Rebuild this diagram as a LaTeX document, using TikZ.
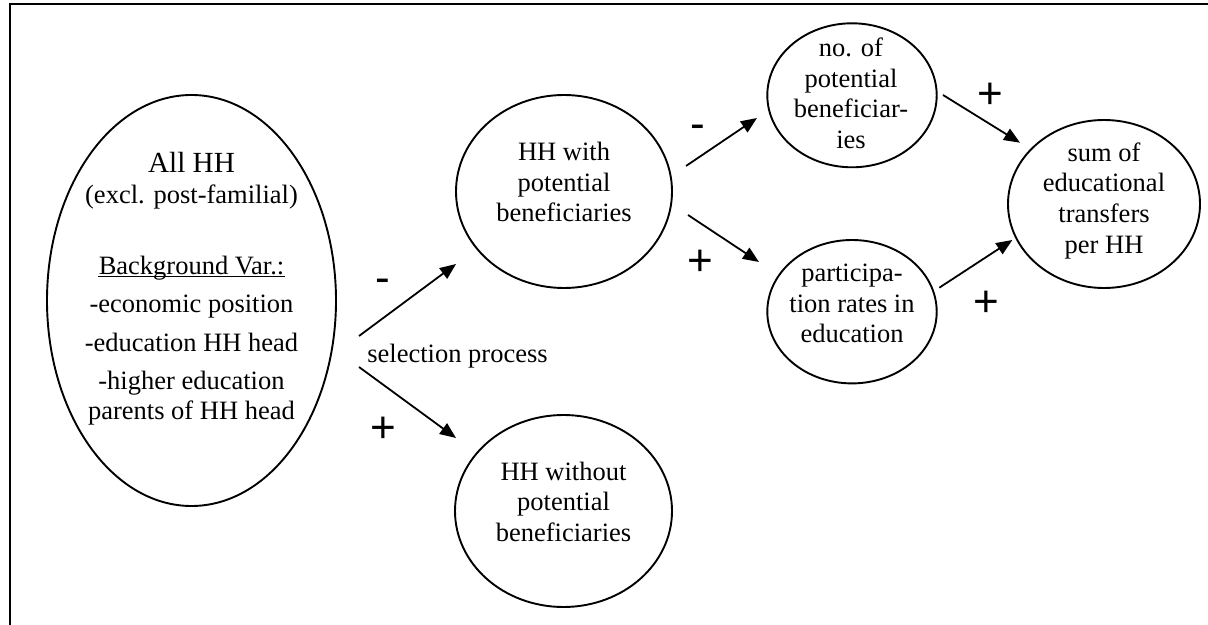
\documentclass[tikz,border=0pt]{standalone}
\usepackage{fontspec}
\setmainfont{Liberation Serif}
\newfontfamily\signfont{Liberation Sans}
\usetikzlibrary{shapes.geometric,arrows.meta}
\begin{document}
\begin{tikzpicture}[x=0.5pt,y=-0.5pt,
  oval/.style={draw,ellipse,line width=0.95pt,inner sep=0pt},
  txt/.style={anchor=base,align=center,inner sep=0pt,font=\fontsize{13.25}{15.4}\selectfont},
  sign/.style={anchor=base,inner sep=0pt,font=\signfont\fontsize{22}{22}\selectfont},
  link/.style={-{Triangle[length=8pt,width=6.5pt]},line width=0.9pt}]
\useasboundingbox (0,0) rectangle (1208,625);
\draw[line width=1pt] (10,625) -- (10,4) -- (1208,4);

% ellipses
\node[oval,minimum width=144.5pt,minimum height=205.5pt] (all) at (191.5,300.5) {};
\node[oval,minimum width=108pt,minimum height=96.5pt] (with) at (564,191.5) {};
\node[oval,minimum width=108.5pt,minimum height=96pt] (without) at (563.5,511) {};
\node[oval,minimum width=84.7pt,minimum height=72pt] (no) at (852,95.3) {};
\node[oval,minimum width=84.7pt,minimum height=71.7pt] (part) at (852,311.7) {};
\node[oval,minimum width=96pt,minimum height=84pt] (sum) at (1104,204) {};

% texts (base anchor = baseline of the last line)
\node[txt,font=\fontsize{14.6}{16}\selectfont] (allA) at (191.5,172.3) {All HH};
\node[txt] (allB) at (191.5,203.3) {(excl. post-familial)};
\node[txt] (allC) at (191.5,274.3) {Background Var.:};
\draw[line width=0.7pt] ([yshift=-1.2pt]allC.base west) -- ([yshift=-1.2pt]allC.base east);
\node[txt,font=\fontsize{13.25}{19.1}\selectfont] (allD) at (191.5,419.3)
  {-economic position\\-education HH head\\-higher education\\[-4.1pt]parents of HH head};
\node[txt] (withT) at (564,222) {HH with\\potential\\beneficiaries};
\node[txt] (withoutT) at (563.5,541.7) {HH without\\potential\\beneficiaries};
\node[txt,font=\fontsize{13.25}{15.3}\selectfont] (noT) at (851,148.5) {no. of\\potential\\beneficiar-\\ies};
\node[txt,font=\fontsize{13.25}{15.3}\selectfont] (partT) at (852,342.7) {participa-\\tion rates in\\education};
\node[txt] (sumT) at (1104,253.5) {sum of\\educational\\transfers\\per HH};
\node[txt,anchor=base west] (sel) at (367,362) {selection process};

% signs
\node[sign] (m1) at (383.3,292.2) {-};
\node[sign] (p1) at (383.3,442.2) {+};
\node[sign] (m2) at (698.3,138.2) {-};
\node[sign] (p2) at (700,275.5) {+};
\node[sign] (p3) at (990,108.8) {+};
\node[sign] (p4) at (986.7,316.2) {+};

% connector ends
\coordinate (a1s) at (359,336);   \coordinate (a1e) at (456,264);
\coordinate (a2s) at (359,367);   \coordinate (a2e) at (456,438);
\coordinate (a3s) at (686,166);   \coordinate (a3e) at (757,118);
\coordinate (a4s) at (688,215);   \coordinate (a4e) at (759,262);
\coordinate (a5s) at (943,95);    \coordinate (a5e) at (1020,142.7);
\coordinate (a6s) at (939.3,287.7); \coordinate (a6e) at (1012.3,240);

\draw[link] (a1s) -- (a1e);
\draw[link] (a2s) -- (a2e);
\draw[link] (a3s) -- (a3e);
\draw[link] (a4s) -- (a4e);
\draw[link] (a5s) -- (a5e);
\draw[link] (a6s) -- (a6e);
\end{tikzpicture}
\end{document}
